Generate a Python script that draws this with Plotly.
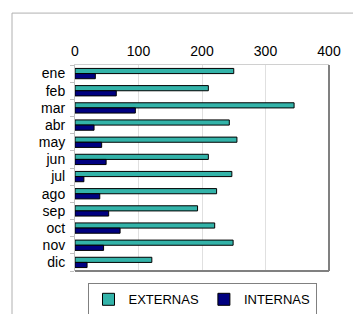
import plotly.graph_objects as go

months = ["ene", "feb", "mar", "abr", "may", "jun", "jul", "ago", "sep", "oct", "nov", "dic"]
externas = [250, 210, 345, 243, 255, 210, 247, 223, 193, 220, 249, 121]
internas = [32, 65, 95, 30, 42, 49, 14, 39, 53, 71, 45, 19]
x_ticks = [0, 100, 200, 300, 400]

fig = go.Figure()
fig.add_trace(go.Bar(y=months, x=externas, orientation="h", name="EXTERNAS",
                     marker=dict(color="#33b3a9", line=dict(color="#000000", width=1))))
fig.add_trace(go.Bar(y=months, x=internas, orientation="h", name="INTERNAS",
                     marker=dict(color="#000080", line=dict(color="#000000", width=1))))

font = "Liberation Sans, Arial, sans-serif"
fig.update_layout(
    width=353, height=314,
    margin=dict(l=75, r=24, t=65, b=43, autoexpand=False),
    paper_bgcolor="white", plot_bgcolor="white",
    barmode="group", bargap=0.4, bargroupgap=0,
    font=dict(family=font, size=13, color="#000000"),
    showlegend=True,
    legend=dict(orientation="h", x=0.5, xanchor="center", y=-0.06, yanchor="top",
                bordercolor="#808080", borderwidth=1, font=dict(size=13),
                itemwidth=30, tracegroupgap=0),
    xaxis=dict(side="top", range=[0, 400], tickvals=x_ticks, showgrid=True,
               gridcolor="#e0e0e0", gridwidth=1, showline=True, linecolor="#d0d0d0",
               zeroline=False, ticks="", ticklabelstandoff=2, fixedrange=True,
               automargin=False, tickfont=dict(size=14)),
    yaxis=dict(autorange="reversed", showline=True, linecolor="#c0c0c0",
               tickmode="array", tickvals=months, ticktext=months,
               ticks="outside", tickson="boundaries", ticklen=4, tickcolor="#c0c0c0",
               showgrid=False, ticklabelstandoff=6, automargin=False,
               tickfont=dict(size=14)),
    shapes=[
        dict(type="rect", xref="paper", yref="paper", x0=-0.248, x1=1.3, y0=-0.4, y1=1.252,
             line=dict(color="#b0b0b0", width=1), layer="below"),
        dict(type="line", xref="paper", yref="paper", x0=1, x1=1, y0=0, y1=1,
             line=dict(color="#808080", width=2)),
        dict(type="line", xref="paper", yref="paper", x0=0, x1=1, y0=0, y1=0,
             line=dict(color="#808080", width=2)),
    ],
)

fig.write_html("out.html", config={"displayModeBar": False},
               post_script="document.body.style.margin='0';document.body.style.overflow='hidden';")
